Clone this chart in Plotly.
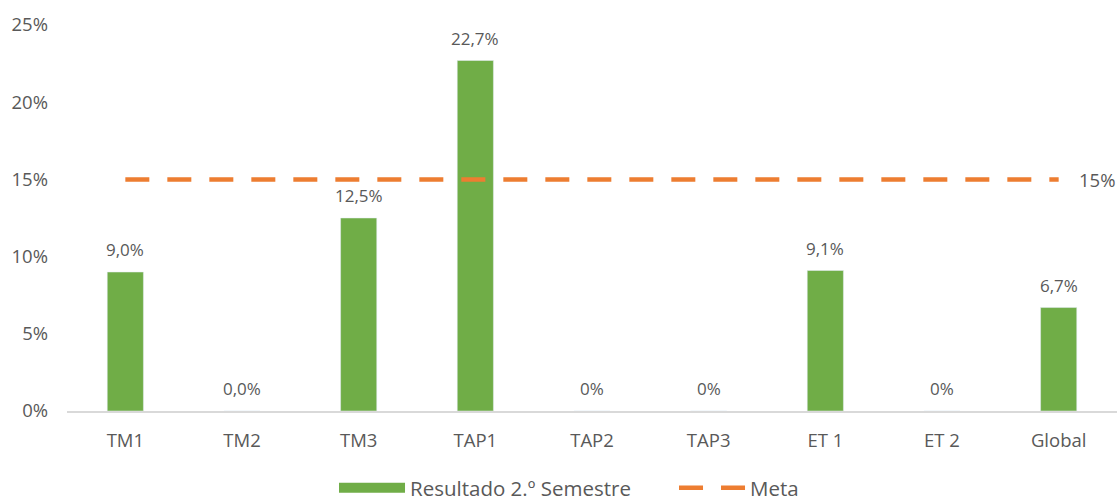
import plotly.graph_objects as go

categories = ["TM1", "TM2", "TM3", "TAP1", "TAP2", "TAP3", "ET 1", "ET 2", "Global"]
resultado = [9.0, 0.0, 12.5, 22.7, 0.0, 0.0, 9.1, 0.0, 6.7]
resultado_labels = ["9,0%", "0,0%", "12,5%", "22,7%", "0%", "0%", "9,1%", "0%", "6,7%"]
meta = [15] * len(categories)
meta_label = "15%"
y_ticks = [0, 5, 10, 15, 20, 25]
y_tick_labels = ["0%", "5%", "10%", "15%", "20%", "25%"]

GREEN = "#70AD47"
ORANGE = "#ED7D31"
TEXT = "#595959"
FONT = "Open Sans"

fig = go.Figure()
fig.add_trace(go.Bar(
    x=categories, y=resultado, cliponaxis=False,
    marker=dict(color=GREEN), width=0.31, showlegend=False, name="Resultado 2.º Semestre",
))
fig.add_trace(go.Scatter(
    x=categories, y=meta, mode="lines", name="Meta",
    line=dict(color=ORANGE, width=4.5, dash="24px,18px"), showlegend=False,
))
# legend entries
fig.add_trace(go.Scatter(x=[None], y=[None], mode="lines", name="Resultado 2.º Semestre",
                         line=dict(color=GREEN, width=14)))
fig.add_trace(go.Scatter(x=[None], y=[None], mode="lines", name="Meta",
                         line=dict(color=ORANGE, width=4.5, dash="24px,18px")))

# data labels
for cat, val, lab in zip(categories, resultado, resultado_labels):
    fig.add_annotation(x=cat, y=val, xref="x", yref="y", text=lab, showarrow=False,
                       yanchor="bottom", yshift=9,
                       font=dict(family=FONT, size=17, color=TEXT))

fig.add_annotation(xref="paper", x=1, xanchor="right", y=meta[-1], yref="y",
                   text=meta_label, showarrow=False,
                   font=dict(family=FONT, size=18.5, color=TEXT))

fig.update_layout(
    width=1118, height=502,
    margin=dict(l=67, r=1, t=25, b=91),
    plot_bgcolor="white", paper_bgcolor="white",
    font=dict(family=FONT, size=18.5, color=TEXT),
    bargap=0.69,
    legend=dict(orientation="h", x=0.2543, xanchor="left", yref="container",
                y=0.028, yanchor="middle", itemwidth=66,
                entrywidth=259, entrywidthmode="pixels",
                font=dict(family=FONT, size=20.5, color=TEXT)),
    xaxis=dict(showline=True, linecolor="#D9D9D9", linewidth=1.5, showgrid=False,
               ticks="", ticklabelstandoff=12, tickfont=dict(size=18.5, color=TEXT)),
    yaxis=dict(range=[0, 25], tickvals=y_ticks, ticktext=y_tick_labels,
               showgrid=False, zeroline=False, showline=False, ticks="",
               ticklabelstandoff=18, tickfont=dict(size=18.5, color=TEXT)),
)

fig.write_html("out.html", config={"displayModeBar": False},
               post_script="document.body.style.margin='0';")
